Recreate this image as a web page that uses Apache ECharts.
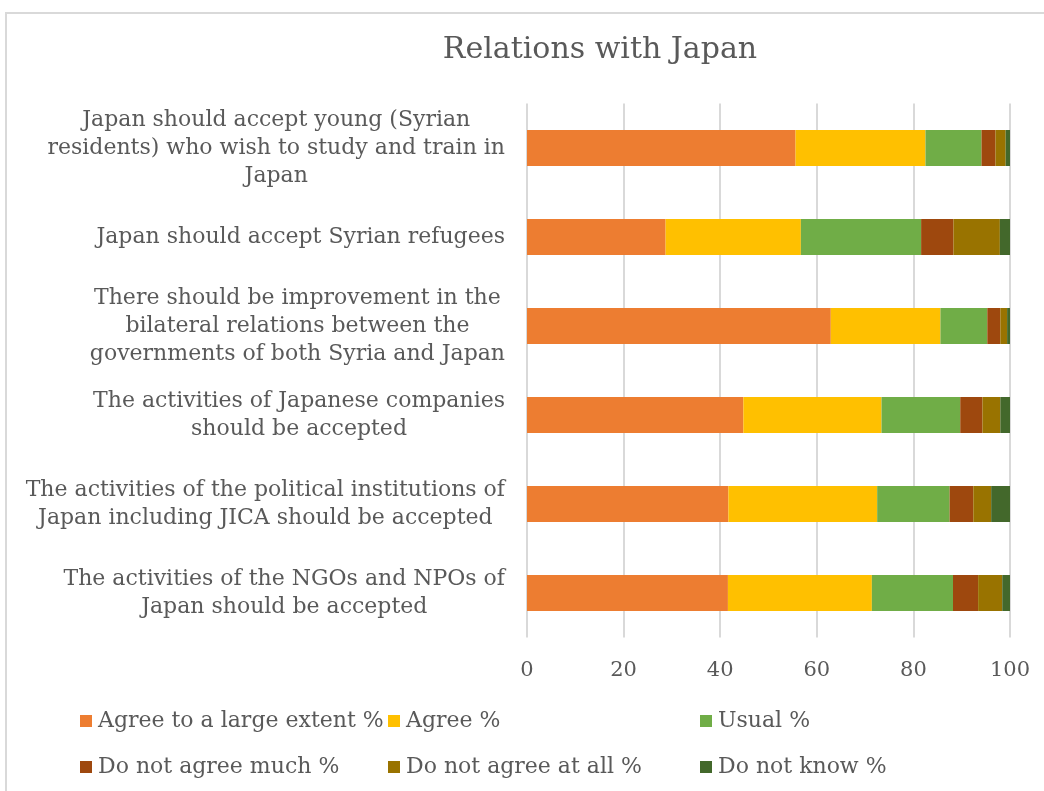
<!DOCTYPE html>
<html>
<head>
<meta charset="utf-8">
<script src="https://cdn.jsdelivr.net/npm/echarts@6/dist/echarts.min.js"></script>
<style>
html,body{margin:0;padding:0;background:#fff;}
#frame{position:absolute;left:5px;top:12px;width:1100px;height:850px;border:2px solid #d9d9d9;box-sizing:border-box;}
#main{position:absolute;left:0;top:0;width:1044px;height:791px;}
</style>
</head>
<body>
<div id="frame"></div>
<div id="main"></div>
<script>
const categories = [
  "Japan should accept young (Syrian\nresidents) who wish to study and train in\nJapan",
  "Japan should accept Syrian refugees",
  "There should be improvement in the\nbilateral relations between the\ngovernments of both Syria and Japan",
  "The activities of Japanese companies\nshould be accepted",
  "The activities of the political institutions of\nJapan including JICA should be accepted",
  "The activities of the NGOs and NPOs of\nJapan should be accepted"
];
const seriesNames = ["Agree to a large extent %", "Agree %", "Usual %", "Do not agree much %", "Do not agree at all %", "Do not know %"];
const agreeLarge = [55.6, 28.7, 62.9, 44.8, 41.7, 41.6];
const agree = [26.9, 28.0, 22.7, 28.6, 30.8, 29.8];
const usual = [11.6, 24.9, 9.7, 16.3, 15.0, 16.8];
const notMuch = [2.9, 6.7, 2.7, 4.6, 4.9, 5.2];
const notAtAll = [2.1, 9.6, 1.4, 3.7, 3.7, 5.0];
const dontKnow = [0.9, 2.1, 0.6, 2.0, 3.9, 1.6];
const xTicks = [0, 20, 40, 60, 80, 100];

const colors = ["#ED7D31", "#FFC000", "#70AD47", "#9E480E", "#997300", "#43682B"];
const values = [agreeLarge, agree, usual, notMuch, notAtAll, dontKnow];
const FONT = "DejaVu Serif";
const TXT = "#595959";

const legendPos = [[80, 710], [388, 710], [700, 710], [80, 756], [388, 756], [700, 756]];

const chart = echarts.init(document.getElementById('main'), null, {renderer: 'canvas'});
chart.setOption({
  animation: false,
  color: colors,
  title: {
    text: "Relations with Japan",
    left: 595, top: 30, textAlign: 'center',
    textStyle: {fontFamily: FONT, fontSize: 30, fontWeight: 'normal', color: TXT}
  },
  legend: seriesNames.map((n, i) => ({
    data: [n], left: legendPos[i][0], top: legendPos[i][1],
    icon: 'rect', itemWidth: 12, itemHeight: 12, itemGap: 6, padding: 0,
    textStyle: {fontFamily: FONT, fontSize: 22, color: TXT, padding: [0, 0, 0, 1]}
  })),
  grid: {left: 527, right: 34, top: 103.5, bottom: 153.5, containLabel: false},
  xAxis: {
    type: 'value', min: 0, max: 100, interval: 20,
    axisLine: {show: false}, axisTick: {show: false},
    splitLine: {lineStyle: {color: '#d9d9d9', width: 2}},
    axisLabel: {
      margin: 23, fontFamily: FONT, fontSize: 21, color: TXT,
      formatter: v => xTicks.includes(v) ? String(v) : ''
    }
  },
  yAxis: {
    type: 'category', data: categories, inverse: true,
    axisLine: {show: false}, axisTick: {show: false},
    axisLabel: {
      margin: 22, align: 'right', fontFamily: FONT, fontSize: 22, color: TXT, lineHeight: 28,
      formatter: v => v.split('\n').map(l => '{c|' + l + '}').join('\n'),
      rich: {c: {align: 'center', fontFamily: FONT, fontSize: 22, color: TXT, lineHeight: 28}}
    }
  },
  series: seriesNames.map((n, i) => ({
    name: n, type: 'bar', stack: 'total', barWidth: 36,
    data: values[i],
    itemStyle: {color: colors[i]}
  }))
});
</script>
</body>
</html>
